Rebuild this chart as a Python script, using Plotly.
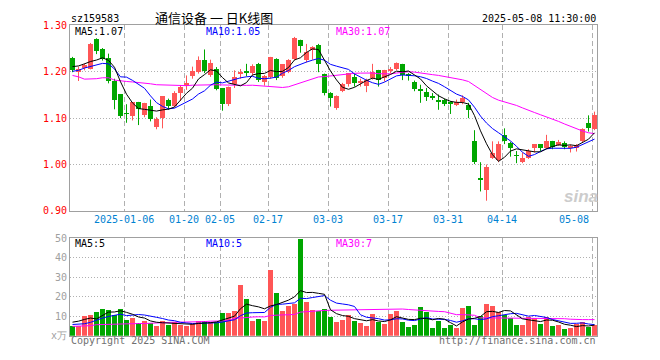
import plotly.graph_objects as go

# ---------------- data ----------------
dates = [
    "2024-12-23", "2024-12-24", "2024-12-25", "2024-12-26", "2024-12-27", "2024-12-30", "2024-12-31",
    "2025-01-02", "2025-01-03", "2025-01-06", "2025-01-07", "2025-01-08", "2025-01-09", "2025-01-10",
    "2025-01-13", "2025-01-14", "2025-01-15", "2025-01-16", "2025-01-17", "2025-01-20", "2025-01-21",
    "2025-01-22", "2025-01-23", "2025-01-24", "2025-01-27",
    "2025-02-05", "2025-02-06", "2025-02-07", "2025-02-10", "2025-02-11", "2025-02-12", "2025-02-13",
    "2025-02-14", "2025-02-17", "2025-02-18", "2025-02-19", "2025-02-20", "2025-02-21", "2025-02-24",
    "2025-02-25", "2025-02-26", "2025-02-27", "2025-02-28",
    "2025-03-03", "2025-03-04", "2025-03-05", "2025-03-06", "2025-03-07", "2025-03-10", "2025-03-11",
    "2025-03-12", "2025-03-13", "2025-03-14", "2025-03-17", "2025-03-18", "2025-03-19", "2025-03-20",
    "2025-03-21", "2025-03-24", "2025-03-25", "2025-03-26", "2025-03-27", "2025-03-28", "2025-03-31",
    "2025-04-01", "2025-04-02", "2025-04-03", "2025-04-07", "2025-04-08", "2025-04-09", "2025-04-10",
    "2025-04-11", "2025-04-14", "2025-04-15", "2025-04-16", "2025-04-17", "2025-04-18", "2025-04-21",
    "2025-04-22", "2025-04-23", "2025-04-24", "2025-04-25", "2025-04-28", "2025-04-29", "2025-04-30",
    "2025-05-06", "2025-05-07", "2025-05-08",
]

opens = [
    1.229, 1.199, 1.207, 1.206, 1.269, 1.248, 1.229, 1.179, 1.151, 1.110,
    1.104, 1.133, 1.106, 1.125, 1.081, 1.099, 1.138, 1.126, 1.154, 1.168,
    1.190, 1.199, 1.225, 1.192, 1.206, 1.165, 1.130, 1.172, 1.196, 1.201,
    1.196, 1.217, 1.177, 1.188, 1.227, 1.190, 1.199, 1.227, 1.267, 1.225,
    1.246, 1.257, 1.194, 1.153, 1.122, 1.158, 1.173, 1.189, 1.176, 1.168,
    1.185, 1.203, 1.185, 1.201, 1.206, 1.215, 1.194, 1.177, 1.160, 1.156,
    1.145, 1.139, 1.139, 1.132, 1.129, 1.135, 1.128, 1.049, 0.969, 0.944,
    1.014, 1.008, 1.063, 1.046, 1.019, 1.005, 1.014, 1.036, 1.043, 1.036,
    1.050, 1.043, 1.046, 1.035, 1.036, 1.049, 1.088, 1.076,
]
highs = [
    1.232, 1.211, 1.218, 1.262, 1.272, 1.251, 1.239, 1.185, 1.151, 1.130,
    1.134, 1.135, 1.133, 1.140, 1.102, 1.147, 1.142, 1.158, 1.171, 1.192,
    1.211, 1.233, 1.248, 1.226, 1.210, 1.165, 1.168, 1.203, 1.206, 1.217,
    1.216, 1.219, 1.193, 1.232, 1.229, 1.216, 1.227, 1.275, 1.269, 1.260,
    1.255, 1.260, 1.196, 1.156, 1.149, 1.176, 1.197, 1.196, 1.185, 1.185,
    1.217, 1.204, 1.204, 1.210, 1.220, 1.217, 1.197, 1.181, 1.172, 1.165,
    1.154, 1.151, 1.142, 1.137, 1.140, 1.149, 1.133, 1.074, 1.005, 1.000,
    1.050, 1.050, 1.078, 1.049, 1.029, 1.026, 1.033, 1.044, 1.044, 1.064,
    1.051, 1.053, 1.050, 1.043, 1.044, 1.078, 1.106, 1.114,
]
lows = [
    1.199, 1.180, 1.203, 1.205, 1.238, 1.224, 1.175, 1.119, 1.100, 1.090,
    1.095, 1.085, 1.102, 1.093, 1.076, 1.078, 1.118, 1.123, 1.137, 1.161,
    1.185, 1.196, 1.197, 1.189, 1.160, 1.116, 1.126, 1.165, 1.185, 1.190,
    1.192, 1.178, 1.170, 1.185, 1.182, 1.187, 1.197, 1.225, 1.241, 1.220,
    1.226, 1.199, 1.149, 1.125, 1.118, 1.156, 1.168, 1.168, 1.168, 1.156,
    1.183, 1.168, 1.179, 1.196, 1.203, 1.182, 1.181, 1.158, 1.133, 1.137,
    1.139, 1.118, 1.126, 1.109, 1.126, 1.130, 1.100, 1.001, 0.942, 0.922,
    1.012, 1.005, 1.044, 1.017, 1.003, 1.003, 1.012, 1.026, 1.029, 1.033,
    1.033, 1.040, 1.033, 1.026, 1.028, 1.047, 1.071, 1.074,
]
closes = [
    1.203, 1.206, 1.214, 1.260, 1.243, 1.227, 1.179, 1.139, 1.104, 1.109,
    1.133, 1.118, 1.131, 1.097, 1.097, 1.146, 1.126, 1.154, 1.166, 1.176,
    1.201, 1.225, 1.201, 1.218, 1.163, 1.130, 1.167, 1.189, 1.199, 1.198,
    1.212, 1.182, 1.191, 1.231, 1.185, 1.215, 1.224, 1.272, 1.255, 1.242,
    1.253, 1.217, 1.154, 1.142, 1.146, 1.173, 1.196, 1.175, 1.179, 1.182,
    1.199, 1.182, 1.203, 1.204, 1.218, 1.192, 1.191, 1.163, 1.158, 1.144,
    1.143, 1.133, 1.130, 1.131, 1.133, 1.142, 1.116, 1.005, 0.967, 0.994,
    1.024, 1.044, 1.049, 1.034, 1.018, 1.013, 1.029, 1.043, 1.034, 1.051,
    1.037, 1.047, 1.037, 1.040, 1.042, 1.076, 1.078, 1.106,
]
volumes = [  # x 10^4
    4.8, 4.8, 10.2, 10.7, 12.3, 13.8, 13.3, 10.5, 13.8, 8.2,
    8.9, 6.4, 7.7, 6.4, 4.9, 7.6, 5.4, 7.2, 5.4, 4.9,
    6.1, 7.6, 7.6, 6.9, 6.9, 11.7, 11.7, 12.7, 26.0, 18.6,
    7.7, 8.7, 7.7, 33.4, 22.0, 12.7, 15.1, 16.1, 49.3, 17.1,
    13.1, 12.7, 13.6, 9.7, 7.2, 8.2, 10.7, 7.7, 6.7, 4.7,
    11.2, 7.2, 6.2, 11.2, 12.7, 7.2, 4.3, 5.7, 14.6, 12.2,
    3.8, 7.7, 3.8, 5.7, 3.8, 14.1, 15.1, 5.7, 10.2, 16.1,
    15.1, 12.2, 10.7, 9.2, 5.7, 5.2, 9.7, 9.2, 6.2, 9.7,
    4.7, 5.2, 3.3, 3.8, 6.2, 7.2, 4.2, 5.7,
]

# moving-average values at the left edge (their windows start before the visible range)
ma5_head = [1.211, 1.2125, 1.217, 1.222]
ma10_head = [1.201, 1.203, 1.208, 1.211, 1.215, 1.218, 1.217, 1.206, 1.189]
ma30_head = [1.192, 1.189, 1.184, 1.184, 1.185, 1.187, 1.187, 1.182, 1.180, 1.179,
             1.178, 1.177, 1.176, 1.174, 1.172, 1.1715, 1.171, 1.171, 1.170, 1.170,
             1.171, 1.1715, 1.1715, 1.1715, 1.172, 1.1715, 1.171, 1.171, 1.1715]
vma5_head = [6.9, 7.4, 8.3, 9.0]
vma10_head = [5.7, 5.8, 6.1, 6.8, 8.0, 9.0, 9.8, 10.5, 11.0]
vma30_head = [4.75, 4.75, 4.9, 5.1, 5.6, 5.7, 5.7, 6.1, 6.1, 6.1,
              6.1, 6.2, 6.2, 6.4, 6.6, 6.7, 6.9, 6.9, 6.9, 6.9,
              6.9, 7.0, 7.2, 7.4, 7.4, 7.5, 7.9, 8.9, 9.0]

tick_dates = ["2025-01-06", "2025-01-20", "2025-02-05", "2025-02-17", "2025-03-03",
              "2025-03-17", "2025-03-31", "2025-04-14", "2025-05-08"]
tick_labels = ["2025-01-06", "01-20", "02-05", "02-17", "03-03", "03-17", "03-31", "04-14", "05-08"]
price_ticks = [0.90, 1.00, 1.10, 1.20, 1.30]
vol_ticks = [0, 10, 20, 30, 40, 50]
vol_tick_labels = ["x万", "10", "20", "30", "40", "50"]

title_text = "通信设备 一 日K线图"
code_text = "sz159583"
time_text = "2025-05-08 11:30:00"
vol_ma_labels = ["MA5:5", "MA10:5", "MA30:7"]

# ---------------- derived ----------------
n = len(dates)
idx = list(range(n))


def moving_avg(vals, w, head):
    out = list(head)
    for i in range(w - 1, len(vals)):
        out.append(sum(vals[i - w + 1:i + 1]) / w)
    return out


ma5 = moving_avg(closes, 5, ma5_head)
ma10 = moving_avg(closes, 10, ma10_head)
ma30 = moving_avg(closes, 30, ma30_head)
vma5 = moving_avg(volumes, 5, vma5_head)
vma10 = moving_avg(volumes, 10, vma10_head)
vma30 = moving_avg(volumes, 30, vma30_head)

RED = "#ff5656"
GREEN = "#00a600"
up = [c >= o for o, c in zip(opens, closes)]
colors = [RED if u else GREEN for u in up]
body_base = [min(o, c) for o, c in zip(opens, closes)]
body_h = [max(abs(c - o), 0.0009) for o, c in zip(opens, closes)]

W, H = 660, 360
PL, PR = 70, 597
MT, MB = 20, 212
VT, VB = 240, 341
slot = 6.0
first_px = 72.5
r0 = (PL - first_px) / slot
r1 = (PR - first_px) / slot

tick_idx = [dates.index(d) for d in tick_dates]
grid_x = [t - 0.35 for t in tick_idx]

MONO = "DejaVu Sans Mono"

fig = go.Figure()

# wicks
for flag, col in ((True, RED), (False, GREEN)):
    wx, wy = [], []
    for i in idx:
        if up[i] == flag:
            wx += [i, i, None]
            wy += [lows[i], highs[i], None]
    fig.add_trace(go.Scatter(x=wx, y=wy, mode="lines", line=dict(color=col, width=1),
                             xaxis="x", yaxis="y", hoverinfo="skip"))

# candle bodies
fig.add_trace(go.Bar(x=idx, y=body_h, base=body_base, marker=dict(color=colors, line=dict(width=0)),
                     width=5 / 6, xaxis="x", yaxis="y", hoverinfo="skip"))

# price MAs
for vals, col in ((ma30, "#ff00ff"), (ma10, "#0000ff"), (ma5, "#000000")):
    fig.add_trace(go.Scatter(x=idx, y=vals, mode="lines", line=dict(color=col, width=1),
                             xaxis="x", yaxis="y", hoverinfo="skip"))

# volume bars
fig.add_trace(go.Bar(x=idx, y=volumes, marker=dict(color=colors, line=dict(width=0)),
                     width=5 / 6, xaxis="x2", yaxis="y2", hoverinfo="skip"))
for vals, col in ((vma30, "#ff00ff"), (vma10, "#0000ff"), (vma5, "#000000")):
    fig.add_trace(go.Scatter(x=idx, y=vals, mode="lines", line=dict(color=col, width=1),
                             xaxis="x2", yaxis="y2", hoverinfo="skip"))

FRAME = "#a0a0a0"
GRID = "#b0b0b0"

xcommon = dict(range=[r0, r1], domain=[PL / W, PR / W], showticklabels=False, ticks="",
               tickvals=grid_x, showgrid=True, gridcolor=GRID, griddash="5px,3px", gridwidth=1,
               showline=True, mirror=True, linecolor=FRAME, linewidth=1, zeroline=False, fixedrange=True)

fig.update_layout(
    width=W, height=H, margin=dict(l=0, r=0, t=0, b=0),
    paper_bgcolor="white", plot_bgcolor="white", showlegend=False, hovermode=False,
    bargap=0, barmode="overlay",
    xaxis=dict(anchor="y", **xcommon),
    xaxis2=dict(anchor="y2", **xcommon),
    yaxis=dict(domain=[1 - MB / H, 1 - MT / H], range=[0.90, 1.30], tickvals=price_ticks,
               ticktext=[f"{v:.2f}" for v in price_ticks], ticks="",
               tickfont=dict(family=MONO, size=10, color="#ff0000"),
               showgrid=True, gridcolor=GRID, griddash="1px,2px", gridwidth=1,
               showline=True, mirror=True, linecolor=FRAME, linewidth=1, zeroline=False,
               anchor="x", fixedrange=True),
    yaxis2=dict(domain=[1 - VB / H, 1 - VT / H], range=[0, 50], tickvals=vol_ticks,
                ticktext=vol_tick_labels, ticks="",
                tickfont=dict(family=MONO, size=10, color="#a0a0a0"),
                showgrid=True, gridcolor=GRID, griddash="1px,2px", gridwidth=1,
                showline=True, mirror=True, linecolor=FRAME, linewidth=1, zeroline=False,
                anchor="x2", fixedrange=True),
)


def px_x(p):
    return p / W


def px_y(p):
    return 1 - p / H


ann = []


def text(s, x, y, anchor="left", size=10, color="#000000", family=MONO, **kw):
    ann.append(dict(text=s, x=px_x(x), y=px_y(y), xref="paper", yref="paper", xanchor=anchor,
                    yanchor="middle", showarrow=False, font=dict(family=family, size=size, color=color),
                    borderpad=0, **kw))


text(code_text, 70, 13)
text(title_text, 214, 11.5, anchor="center", size=13, family="Noto Sans CJK SC")
text(time_text, 597, 13, anchor="right")
text(f"MA5:{ma5[-1]:.2f}", 74, 26.5)
text(f"MA10:{ma10[-1]:.2f}", 205, 26.5, color="#0000ff")
text(f"MA30:{ma30[-1]:.2f}", 335, 26.5, color="#ff00ff")
text(vol_ma_labels[0], 74, 246)
text(vol_ma_labels[1], 205, 246, color="#0000ff")
text(vol_ma_labels[2], 335, 246, color="#ff00ff")
text("Copyright 2025 SINA.COM", 70, 346, color="#707070")
text("http://finance.sina.com.cn", 597, 346, anchor="right", color="#707070")
text("<b><i>sina</i></b>", 581, 197, anchor="center", size=17, color="#cccccc", family="Liberation Sans")

# x tick labels positioned through the data axis
for k, (gx, lab) in enumerate(zip(grid_x, tick_labels)):
    last = k == len(grid_x) - 1
    ann.append(dict(text=lab, x=gx, xref="x", y=px_y(221), yref="paper",
                    xanchor="right" if last else "center", xshift=-2 if last else 0,
                    yanchor="middle", showarrow=False, borderpad=0,
                    font=dict(family=MONO, size=10, color="#0082d2")))

fig.update_layout(annotations=ann)
fig.write_html("out.html")
